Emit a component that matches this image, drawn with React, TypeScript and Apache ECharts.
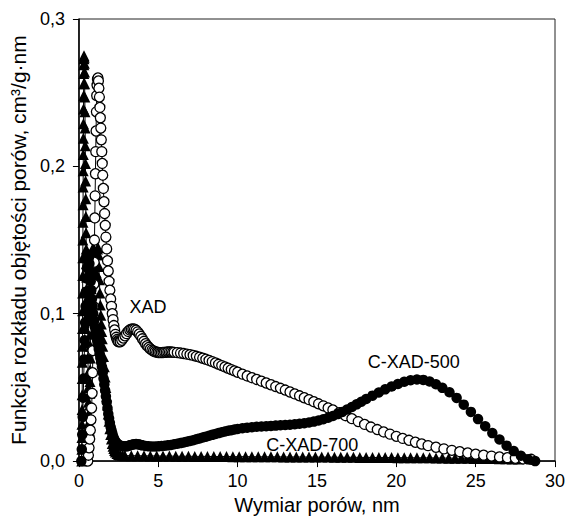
import React, { useEffect, useRef } from "react";
import * as echarts from "echarts";

const seriesNames = ["XAD", "C-XAD-500", "C-XAD-700"];
const xAxisName = "Wymiar porów, nm";
const yAxisName = "Funkcja rozkładu objętości porów, cm³/g·nm";

const xadPoints: [number, number][] = [
  [0.56, 0], [0.6, 0.004], [0.64, 0.009], [0.68, 0.015], [0.72, 0.021], [0.76, 0.028], [0.8, 0.036], [0.83, 0.046], [0.86, 0.06], [0.88, 0.075],
  [0.9, 0.09], [0.92, 0.105], [0.94, 0.12], [0.96, 0.135], [0.98, 0.15], [1.0, 0.165], [1.02, 0.18], [1.04, 0.195], [1.06, 0.21], [1.08, 0.224],
  [1.1, 0.237], [1.12, 0.248], [1.14, 0.255], [1.17, 0.259], [1.2, 0.26], [1.23, 0.258], [1.26, 0.253], [1.29, 0.247], [1.32, 0.24], [1.35, 0.233],
  [1.38, 0.226], [1.41, 0.218], [1.44, 0.21], [1.47, 0.202], [1.5, 0.194], [1.54, 0.185], [1.58, 0.176], [1.62, 0.168], [1.66, 0.16], [1.7, 0.152],
  [1.75, 0.144], [1.8, 0.136], [1.85, 0.129], [1.9, 0.122], [1.95, 0.116], [2.0, 0.11], [2.05, 0.105], [2.1, 0.1], [2.15, 0.096], [2.2, 0.092],
  [2.25, 0.089], [2.3, 0.086], [2.35, 0.084], [2.4, 0.0825], [2.45, 0.0815], [2.5, 0.081],
  [2.6, 0.081], [2.7, 0.082], [2.8, 0.0835], [2.9, 0.085], [3.0, 0.0865], [3.1, 0.088], [3.2, 0.089], [3.3, 0.0895], [3.4, 0.0897], [3.5, 0.0895],
  [3.6, 0.0888], [3.7, 0.0877], [3.8, 0.0863], [3.9, 0.0847], [4.0, 0.083], [4.1, 0.0813], [4.2, 0.0797], [4.3, 0.0783], [4.4, 0.0771], [4.5, 0.0761],
  [4.6, 0.0753], [4.7, 0.0747], [4.8, 0.0742], [4.9, 0.0739], [5.0, 0.0737], [5.1, 0.0736], [5.2, 0.0736], [5.3, 0.0737], [5.4, 0.0738], [5.5, 0.0739],
  [5.6, 0.074], [5.7, 0.074], [5.8, 0.074], [5.9, 0.0739], [6.0, 0.0738],
  [6.2, 0.0736], [6.4, 0.0733], [6.6, 0.073], [6.8, 0.0726], [7.0, 0.0722], [7.2, 0.0717], [7.4, 0.0711], [7.6, 0.0705], [7.8, 0.0698], [8.0, 0.0691],
  [8.2, 0.0683], [8.4, 0.0675], [8.6, 0.0666], [8.8, 0.0657], [9.0, 0.0648], [9.2, 0.0639], [9.4, 0.063], [9.6, 0.0621], [9.8, 0.0612], [10.0, 0.0603],
  [10.3, 0.059], [10.6, 0.0578], [10.9, 0.0566], [11.2, 0.0554], [11.5, 0.0542], [11.8, 0.053], [12.1, 0.0518], [12.4, 0.0506], [12.7, 0.0494], [13.0, 0.0482],
  [13.3, 0.0469], [13.6, 0.0456], [13.9, 0.0443], [14.2, 0.043], [14.5, 0.0417], [14.8, 0.0403], [15.1, 0.0389], [15.4, 0.0375], [15.7, 0.0361], [16.0, 0.0347],
  [16.4, 0.0328], [16.8, 0.0308], [17.2, 0.0288], [17.6, 0.0268], [18.0, 0.0249], [18.4, 0.0231], [18.8, 0.0214], [19.2, 0.0198], [19.6, 0.0183], [20.0, 0.0168],
  [20.4, 0.0154], [20.8, 0.0141], [21.2, 0.0128], [21.6, 0.0116], [22.0, 0.0105],
  [22.5, 0.0094], [23.0, 0.0083], [23.5, 0.0073], [24.0, 0.0064], [24.5, 0.0055], [25.0, 0.0047], [25.5, 0.004], [26.0, 0.0034], [26.5, 0.0028], [27.0, 0.0023],
  [27.5, 0.0019], [28.0, 0.0015], [28.5, 0.0012],
];

const cxad500Points: [number, number][] = [
  [0.15, 0], [0.18, 0.008], [0.21, 0.018], [0.24, 0.03], [0.27, 0.043], [0.3, 0.056], [0.33, 0.069], [0.36, 0.082], [0.39, 0.094], [0.42, 0.105],
  [0.45, 0.115], [0.48, 0.124], [0.51, 0.131], [0.54, 0.136], [0.57, 0.139], [0.6, 0.14], [0.63, 0.138], [0.66, 0.134], [0.7, 0.128], [0.74, 0.122],
  [0.78, 0.116], [0.82, 0.11], [0.86, 0.105], [0.9, 0.1], [0.95, 0.095], [1.0, 0.091], [1.05, 0.088], [1.1, 0.085], [1.15, 0.082], [1.2, 0.079],
  [1.25, 0.076], [1.3, 0.073], [1.35, 0.07], [1.4, 0.067], [1.45, 0.064], [1.5, 0.06], [1.55, 0.056], [1.6, 0.052], [1.65, 0.048], [1.7, 0.044],
  [1.75, 0.04], [1.8, 0.036], [1.85, 0.032], [1.9, 0.029], [1.95, 0.026], [2.0, 0.023], [2.05, 0.021], [2.1, 0.019], [2.15, 0.017], [2.2, 0.0155],
  [2.25, 0.0143], [2.3, 0.0133], [2.35, 0.0125], [2.4, 0.0119], [2.45, 0.0114], [2.5, 0.011], [2.6, 0.0105], [2.7, 0.0102], [2.8, 0.01], [2.9, 0.0099],
  [3.0, 0.01], [3.1, 0.0103], [3.2, 0.0107], [3.3, 0.011], [3.4, 0.0113], [3.5, 0.0115], [3.6, 0.0116], [3.7, 0.0115], [3.8, 0.0113], [3.9, 0.011],
  [4.0, 0.0107], [4.2, 0.0103], [4.4, 0.01], [4.6, 0.0099], [4.8, 0.0099], [5.0, 0.01], [5.2, 0.0102], [5.4, 0.0104], [5.6, 0.0107], [5.8, 0.011],
  [6.0, 0.0114], [6.2, 0.0118], [6.4, 0.0122], [6.6, 0.0127], [6.8, 0.0132], [7.0, 0.0137], [7.2, 0.0142], [7.4, 0.0148], [7.6, 0.0154], [7.8, 0.016],
  [8.0, 0.0166], [8.2, 0.0172], [8.4, 0.0178], [8.6, 0.0184], [8.8, 0.019], [9.0, 0.0196], [9.2, 0.0201], [9.4, 0.0206], [9.6, 0.021], [9.8, 0.0214],
  [10.0, 0.0218], [10.3, 0.0223], [10.6, 0.0227], [10.9, 0.023], [11.2, 0.0233], [11.5, 0.0235], [11.8, 0.0237], [12.1, 0.0239], [12.4, 0.0241], [12.7, 0.0243],
  [13.0, 0.0245], [13.3, 0.0247], [13.6, 0.025], [13.9, 0.0253], [14.2, 0.0257], [14.5, 0.0262], [14.8, 0.0268], [15.1, 0.0275], [15.4, 0.0284], [15.7, 0.0294],
  [16.0, 0.0306], [16.3, 0.0319], [16.6, 0.0334], [16.9, 0.035], [17.2, 0.0367], [17.5, 0.0385], [17.8, 0.0403], [18.1, 0.0421], [18.5, 0.0444], [18.9, 0.0466],
  [19.3, 0.0487], [19.7, 0.0506], [20.1, 0.0523], [20.5, 0.0538], [20.9, 0.0549], [21.3, 0.0554], [21.7, 0.0551], [22.1, 0.054], [22.5, 0.0521], [22.9, 0.0497],
  [23.35, 0.0467], [23.8, 0.0429], [24.25, 0.0383], [24.7, 0.0334], [25.15, 0.0285], [25.6, 0.0237], [26.05, 0.019], [26.5, 0.0147], [26.95, 0.0105], [27.4, 0.0068],
  [27.85, 0.0036], [28.3, 0.0012], [28.75, 0],
];

const cxad700Points: [number, number][] = [
  [0.18, 0], [0.185, 0.008], [0.19, 0.016], [0.195, 0.025], [0.2, 0.035], [0.205, 0.045], [0.21, 0.056], [0.215, 0.067], [0.22, 0.078], [0.225, 0.09],
  [0.23, 0.102], [0.235, 0.114], [0.24, 0.126], [0.245, 0.138], [0.25, 0.15], [0.255, 0.162], [0.26, 0.174], [0.265, 0.186], [0.27, 0.197], [0.275, 0.208],
  [0.28, 0.219], [0.285, 0.229], [0.29, 0.239], [0.295, 0.248], [0.3, 0.256], [0.305, 0.263], [0.31, 0.269], [0.315, 0.273], [0.32, 0.275],
  [0.33, 0.274], [0.34, 0.27], [0.35, 0.264], [0.36, 0.256], [0.37, 0.247], [0.38, 0.237], [0.39, 0.226], [0.4, 0.214], [0.41, 0.202], [0.42, 0.19],
  [0.43, 0.178], [0.44, 0.166], [0.45, 0.155], [0.46, 0.144], [0.47, 0.134], [0.48, 0.125], [0.49, 0.117], [0.5, 0.11], [0.51, 0.104], [0.52, 0.099],
  [0.53, 0.095], [0.54, 0.092], [0.55, 0.09], [0.56, 0.08], [0.57, 0.07], [0.58, 0.06], [0.59, 0.05], [0.6, 0.04], [0.61, 0.032], [0.62, 0.026],
  [0.63, 0.022], [0.64, 0.02], [0.65, 0.021], [0.66, 0.025], [0.67, 0.031], [0.68, 0.038], [0.69, 0.046], [0.7, 0.054], [0.71, 0.062], [0.72, 0.07],
  [0.73, 0.078], [0.74, 0.086], [0.75, 0.094], [0.76, 0.102], [0.77, 0.11], [0.78, 0.117], [0.8, 0.124], [0.82, 0.131], [0.84, 0.137], [0.87, 0.142],
  [0.9, 0.145], [0.93, 0.143], [0.96, 0.138], [0.99, 0.132], [1.02, 0.127], [1.05, 0.125],
  [1.08, 0.128], [1.11, 0.134], [1.14, 0.14], [1.17, 0.144], [1.2, 0.145], [1.23, 0.14], [1.26, 0.132], [1.29, 0.123], [1.32, 0.114], [1.35, 0.106],
  [1.38, 0.099], [1.41, 0.093], [1.44, 0.088], [1.47, 0.083], [1.5, 0.078], [1.55, 0.071], [1.6, 0.064], [1.65, 0.057], [1.7, 0.05], [1.75, 0.044],
  [1.8, 0.038], [1.85, 0.032], [1.9, 0.027], [1.95, 0.022], [2.0, 0.018], [2.05, 0.015], [2.1, 0.012], [2.15, 0.01], [2.2, 0.0085], [2.25, 0.0072],
  [2.3, 0.0062], [2.4, 0.0052], [2.5, 0.0045], [2.6, 0.0041], [2.75, 0.0039],
  [2.9, 0.0037], [3.3, 0.0037], [3.7, 0.0036], [4.1, 0.0036], [4.5, 0.0035], [4.9, 0.0035], [5.3, 0.0034], [5.7, 0.0034], [6.1, 0.0033], [6.5, 0.0033],
  [6.9, 0.0033], [7.3, 0.0032], [7.7, 0.0032], [8.1, 0.0032], [8.5, 0.0031], [8.9, 0.0031], [9.3, 0.0031], [9.7, 0.003], [10.1, 0.003], [10.5, 0.003],
  [10.9, 0.003], [11.3, 0.0029], [11.7, 0.0029], [12.1, 0.0029], [12.5, 0.0029], [12.9, 0.0028], [13.3, 0.0028], [13.7, 0.0028], [14.1, 0.0028], [14.5, 0.0027],
  [14.9, 0.0027], [15.3, 0.0027], [15.7, 0.0027], [16.1, 0.0026], [16.5, 0.0026], [16.9, 0.0026], [17.3, 0.0026], [17.7, 0.0025], [18.1, 0.0025], [18.5, 0.0025],
  [18.9, 0.0024], [19.3, 0.0024], [19.7, 0.0024], [20.1, 0.0023], [20.5, 0.0023], [20.9, 0.0023], [21.3, 0.0022], [21.7, 0.0022], [22.1, 0.0022], [22.5, 0.0021],
  [22.9, 0.0021], [23.3, 0.002], [23.7, 0.002], [24.1, 0.0019], [24.5, 0.0019], [24.9, 0.0018], [25.3, 0.0018], [25.7, 0.0017], [26.1, 0.0017], [26.5, 0.0016],
  [26.9, 0.0016], [27.3, 0.0015], [27.7, 0.0015],
];

const xTickValues = [0, 5, 10, 15, 20, 25, 30];
const yTickValues = [0, 0.1, 0.2, 0.3];

// series annotation labels, anchored in data coordinates
const annotationTexts = ["XAD", "C-XAD-500", "C-XAD-700"];
const annotationAnchors: [number, number][] = [
  [4.36, 0.1044],
  [21.1, 0.0672],
  [14.7, 0.0111],
];

const FONT = "'Liberation Sans', Arial, Helvetica, sans-serif";

export default function App() {
  const ref = useRef<HTMLDivElement>(null);

  useEffect(() => {
    if (!ref.current) return;
    const chart = echarts.init(ref.current, undefined, { renderer: "svg" });

    const common = {
      type: "line" as const,
      showSymbol: true,
      showAllSymbol: true,
      clip: false,
      lineStyle: { color: "#000", width: 1 },
      emphasis: { disabled: true },
    };

    const option: any = {
      animation: false,
      textStyle: { fontFamily: FONT, color: "#000" },
      grid: {
        left: 78,
        right: 15,
        top: 19,
        bottom: 57,
        show: true,
        borderColor: "#222",
        borderWidth: 1,
        backgroundColor: "transparent",
      },
      xAxis: {
        type: "value",
        min: xTickValues[0],
        max: xTickValues[xTickValues.length - 1],
        interval: 5,
        name: xAxisName,
        nameLocation: "middle",
        nameGap: 31,
        nameTextStyle: { fontSize: 20, color: "#000", fontFamily: FONT },
        axisLine: { show: true, onZero: false, lineStyle: { color: "#000", width: 1.5 } },
        axisTick: { show: true, inside: false, length: 6, lineStyle: { color: "#000", width: 1 } },
        axisLabel: { fontSize: 18, color: "#000", margin: 11, fontFamily: FONT },
        splitLine: { show: false },
      },
      yAxis: {
        type: "value",
        min: yTickValues[0],
        max: yTickValues[yTickValues.length - 1],
        interval: 0.1,
        name: yAxisName,
        nameLocation: "middle",
        nameRotate: 90,
        nameGap: 49,
        nameTextStyle: { fontSize: 21, color: "#000", fontFamily: FONT },
        axisLine: { show: true, onZero: false, lineStyle: { color: "#000", width: 1.5 } },
        axisTick: { show: true, inside: false, length: 6, lineStyle: { color: "#000", width: 1 } },
        axisLabel: {
          fontSize: 18,
          color: "#000",
          margin: 14,
          fontFamily: FONT,
          formatter: (v: number) => v.toFixed(1).replace(".", ","),
        },
        splitLine: { show: false },
      },
      series: [
        {
          ...common,
          name: seriesNames[2],
          data: cxad700Points,
          symbol: "triangle",
          symbolSize: 11,
          itemStyle: { color: "#000", borderColor: "#000", borderWidth: 0 },
          z: 2,
        },
        {
          ...common,
          name: seriesNames[0],
          data: xadPoints,
          symbol: "circle",
          symbolSize: 10,
          itemStyle: { color: "#fff", borderColor: "#000", borderWidth: 1.3 },
          z: 3,
        },
        {
          ...common,
          name: seriesNames[1],
          data: cxad500Points,
          symbol: "circle",
          symbolSize: 10.5,
          itemStyle: { color: "#000", borderColor: "#000", borderWidth: 0 },
          z: 4,
        },
      ],
    };

    chart.setOption(option);

    const graphics = annotationTexts.map((t, i) => {
      const p = chart.convertToPixel({ gridIndex: 0 }, annotationAnchors[i]) as number[];
      return {
        type: "text",
        x: p[0],
        y: p[1],
        z: 10,
        style: {
          text: t,
          fontSize: 18,
          fontFamily: FONT,
          fill: "#000",
          align: "center",
          verticalAlign: "middle",
        },
      };
    });
    chart.setOption({ graphic: graphics });

    return () => chart.dispose();
  }, []);

  return (
    <div
      ref={ref}
      style={{ position: "fixed", left: 0, top: 0, width: 570, height: 520, background: "#fff" }}
    />
  );
}
